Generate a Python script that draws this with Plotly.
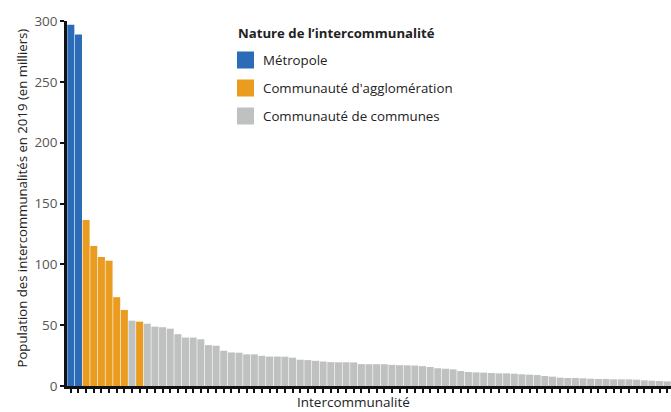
import plotly.graph_objects as go

# Population (thousands) of each intercommunality, sorted descending
values = [297, 289, 136.5, 115, 106, 103, 73, 62.5, 53.7, 52.9,
          51.2, 48.8, 48.3, 47.1, 42.6, 39.8, 39.8, 38.4, 33.6, 33.1,
          29, 27.6, 27.4, 26, 26, 24.8, 24.2, 24.2, 24.1, 23.3,
          21.6, 21.3, 20.7, 20.1, 19.6, 19.5, 19.5, 19.4, 18.0, 17.9,
          17.9, 17.9, 17.4, 17.1, 17.0, 16.8, 16.3, 15.6, 14.6, 14.2,
          13.7, 12.3, 11.5, 11.2, 11.0, 10.7, 10.4, 10.4, 10.1, 9.6,
          9.3, 9.0, 8.2, 7.7, 6.9, 6.6, 6.6, 6.3, 6.0, 5.8,
          5.8, 5.5, 5.5, 5.5, 5.2, 4.7, 4.4, 4.1, 3.8]

natures = (["Métropole"] * 2 + ["Communauté d'agglomération"] * 6
           + ["Communauté de communes"] + ["Communauté d'agglomération"]
           + ["Communauté de communes"] * 69)

categories = ["Métropole", "Communauté d'agglomération", "Communauté de communes"]
colors = ["#2b6bb7", "#e99c1f", "#bfc0c0"]

legend_title = "Nature de l\u2019intercommunalité"
y_title = "Population des intercommunalités en 2019 (en milliers)"
x_title = "Intercommunalité"
y_ticks = [0, 50, 100, 150, 200, 250, 300]

positions = list(range(1, len(values) + 1))

fig = go.Figure()
for cat, col in zip(categories, colors):
    xs = [p for p, n in zip(positions, natures) if n == cat]
    ys = [v for v, n in zip(values, natures) if n == cat]
    fig.add_trace(go.Bar(x=xs, y=ys, name=cat, marker=dict(color=col, line=dict(width=0)),
                         showlegend=False))

FONT = "Open Sans"

# Custom legend (title + squares + labels), given in pixel coordinates
fig.add_annotation(x=236, y=33, xref="paper", yref="paper", text="<b>" + legend_title + "</b>",
                   showarrow=False, xanchor="left", yanchor="middle",
                   font=dict(family=FONT, size=13.2, color="#222"))
for i, (cat, col) in enumerate(zip(categories, colors)):
    yc = 60 + 28 * i
    fig.add_shape(type="rect", xref="paper", yref="paper",
                  x0=237, x1=254, y0=yc - 8.5, y1=yc + 8.5,
                  fillcolor=col, line=dict(width=0))
    fig.add_annotation(x=261, y=yc, xref="paper", yref="paper", text=cat,
                       showarrow=False, xanchor="left", yanchor="middle",
                       font=dict(family=FONT, size=13.3, color="#222"))

# Axis titles
fig.add_annotation(x=353, y=402, xref="paper", yref="paper", text=x_title,
                   showarrow=False, xanchor="center", yanchor="middle", borderpad=0,
                   font=dict(family=FONT, size=13.5, color="#222"))
fig.add_annotation(x=22, y=198.5, xref="paper", yref="paper", text=y_title,
                   showarrow=False, xanchor="center", yanchor="middle", textangle=-90,
                   font=dict(family=FONT, size=13.2, color="#222"))

W, H = 671, 412
L, R, T, B = 67, 0, 21, 26
pw, ph = W - L - R, H - T - B


def px_to_paper(fig):
    for a in fig.layout.annotations:
        a.x = (a.x - L) / pw
        a.y = 1 - (a.y - T) / ph
    for s in fig.layout.shapes:
        s.x0 = (s.x0 - L) / pw
        s.x1 = (s.x1 - L) / pw
        y0, y1 = s.y0, s.y1
        s.y0 = 1 - (y1 - T) / ph
        s.y1 = 1 - (y0 - T) / ph


px_to_paper(fig)

fig.update_layout(
    width=W, height=H,
    margin=dict(l=L, r=R, t=T, b=B, pad=0),
    paper_bgcolor="white", plot_bgcolor="white",
    barmode="relative", bargap=0.08,
    font=dict(family=FONT, size=13, color="#333"),
)
fig.update_xaxes(
    range=[0.5, len(values) + 0.5],
    tickmode="linear", tick0=1, dtick=1,
    ticks="outside", ticklen=4, tickwidth=1.5, tickcolor="#111",
    showticklabels=False, showgrid=False, zeroline=False,
    showline=True, linecolor="#111", linewidth=2.5,
    automargin=False,
)
fig.update_yaxes(
    range=[0, 300], tickmode="array", tickvals=y_ticks,
    ticks="outside", ticklen=4, tickwidth=1.5, tickcolor="#111",
    tickfont=dict(family=FONT, size=13.5, color="#555"),
    showgrid=False, zeroline=False,
    showline=True, linecolor="#111", linewidth=2.5,
    automargin=False,
)

fig.write_html("out.html", config={"displayModeBar": False},
               post_script="document.body.style.margin='0';document.body.style.overflow='hidden';")
